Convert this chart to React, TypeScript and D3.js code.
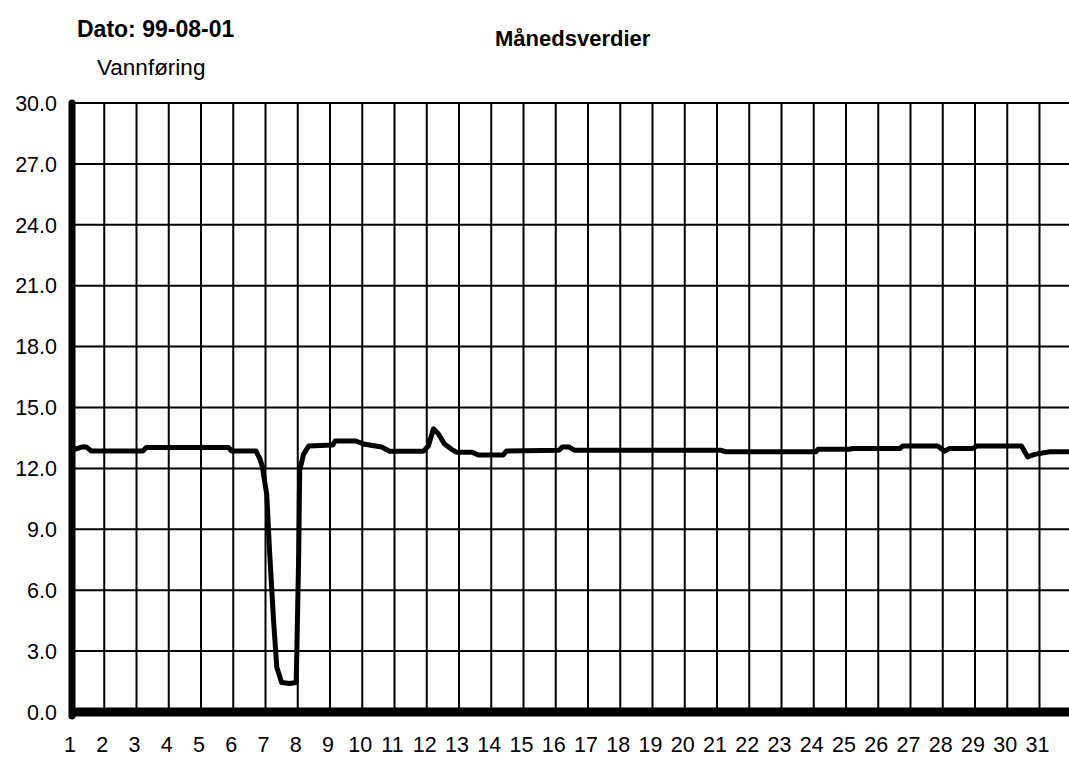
import React from 'react';
import * as d3 from 'd3';

// chart data
const yTicks = [0, 3, 6, 9, 12, 15, 18, 21, 24, 27, 30]
const dayLabels = [1, 2, 3, 4, 5, 6, 7, 8, 9, 10, 11, 12, 13, 14, 15, 16, 17, 18, 19, 20, 21, 22, 23, 24, 25, 26, 27, 28, 29, 30, 31]

const flowDays = [
  1.0, 1.3, 1.45, 1.6, 3.2, 3.3, 5.85, 5.95, 6.7, 6.82, 6.9, 7.04, 7.13, 7.25, 7.35, 7.5, 7.75, 7.95,
  7.97, 8.03, 8.06, 8.18, 8.34, 9.08, 9.16, 9.8, 10.04, 10.6, 10.85, 11.9, 12.05, 12.21, 12.36, 12.55,
  12.76, 12.92, 13.4, 13.6, 14.37, 14.47, 16.1, 16.2, 16.42, 16.57, 21.1, 21.28, 24.07, 24.13, 25.1,
  25.2, 26.67, 26.76, 27.84, 28.06, 28.21, 28.93, 29.05, 30.44, 30.63, 30.85, 31.31, 31.93
]
const flowValues = [
  12.9, 13.05, 13.05, 12.86, 12.86, 13.03, 13.03, 12.86, 12.86, 12.5, 12.1, 10.7, 7.8, 4.5, 2.2, 1.45, 1.4, 1.45,
  2.8, 7.8, 11.9, 12.7, 13.1, 13.15, 13.35, 13.35, 13.2, 13.05, 12.85, 12.85, 13.1, 13.95, 13.7, 13.2,
  12.95, 12.8, 12.8, 12.66, 12.66, 12.86, 12.9, 13.05, 13.05, 12.9, 12.9, 12.82, 12.82, 12.94, 12.94,
  12.98, 12.98, 13.1, 13.1, 12.85, 12.98, 12.98, 13.1, 13.1, 12.57, 12.69, 12.82, 12.82
]

const W = 1069
const H = 762
const font = '"Liberation Sans", Arial, Helvetica, sans-serif'

const x = d3.scaleLinear().domain([1, 32]).range([72, 72 + 31 * 32.25])
const y = d3.scaleLinear().domain([0, 30]).range([712, 103])

export default function App() {
  const points: [number, number][] = flowDays.map((d, i) => [d, flowValues[i]])
  const line = d3.line<[number, number]>()
    .x(d => x(d[0]))
    .y(d => y(d[1]))
    .curve(d3.curveLinear)

  return (
    <svg width={W} height={H} style={{ position: 'absolute', left: 0, top: 0, background: '#fff' }}>
      <rect width={W} height={H} fill={'#fff'}></rect>

      {/* titles */}
      <text x={77} y={37} fontFamily={font} fontWeight={'bold'} fontSize={23}>Dato: 99-08-01</text>
      <text x={495} y={46} fontFamily={font} fontWeight={'bold'} fontSize={22}>Månedsverdier</text>
      <text x={97} y={75} fontFamily={font} fontSize={22.5}>Vannføring</text>

      {/* grid */}
      <g stroke={'#000'} strokeWidth={2}>
        {
          yTicks.map(t => (
            <line key={'h' + t} x1={x(1)} x2={W} y1={y(t)} y2={y(t)}></line>
          ))
        }
        {
          dayLabels.map(d => (
            <line key={'v' + d} x1={x(d)} x2={x(d)} y1={y(30)} y2={y(0)}></line>
          ))
        }
      </g>

      {/* axes */}
      <line x1={x(1)} x2={x(1)} y1={y(30)} y2={y(0) + 4} stroke={'#000'} strokeWidth={7} strokeLinecap={'round'}></line>
      <line x1={x(1) - 3} x2={W} y1={y(0)} y2={y(0)} stroke={'#000'} strokeWidth={9}></line>

      {/* y labels */}
      <g fontFamily={font} fontSize={21.5} textAnchor={'end'}>
        {
          yTicks.map(t => (
            <text key={t} x={57} y={y(t)} dy={'0.36em'}>{t.toFixed(1)}</text>
          ))
        }
      </g>

      {/* x labels */}
      <g fontFamily={font} fontSize={21.5} textAnchor={'middle'}>
        {
          dayLabels.map(d => (
            <text key={d} x={x(d) - 2} y={752}>{d}</text>
          ))
        }
      </g>

      {/* series */}
      <path d={line(points) || ''} fill={'none'} stroke={'#000'} strokeWidth={5} strokeLinejoin={'round'} strokeLinecap={'round'}></path>
    </svg>
  )
}
